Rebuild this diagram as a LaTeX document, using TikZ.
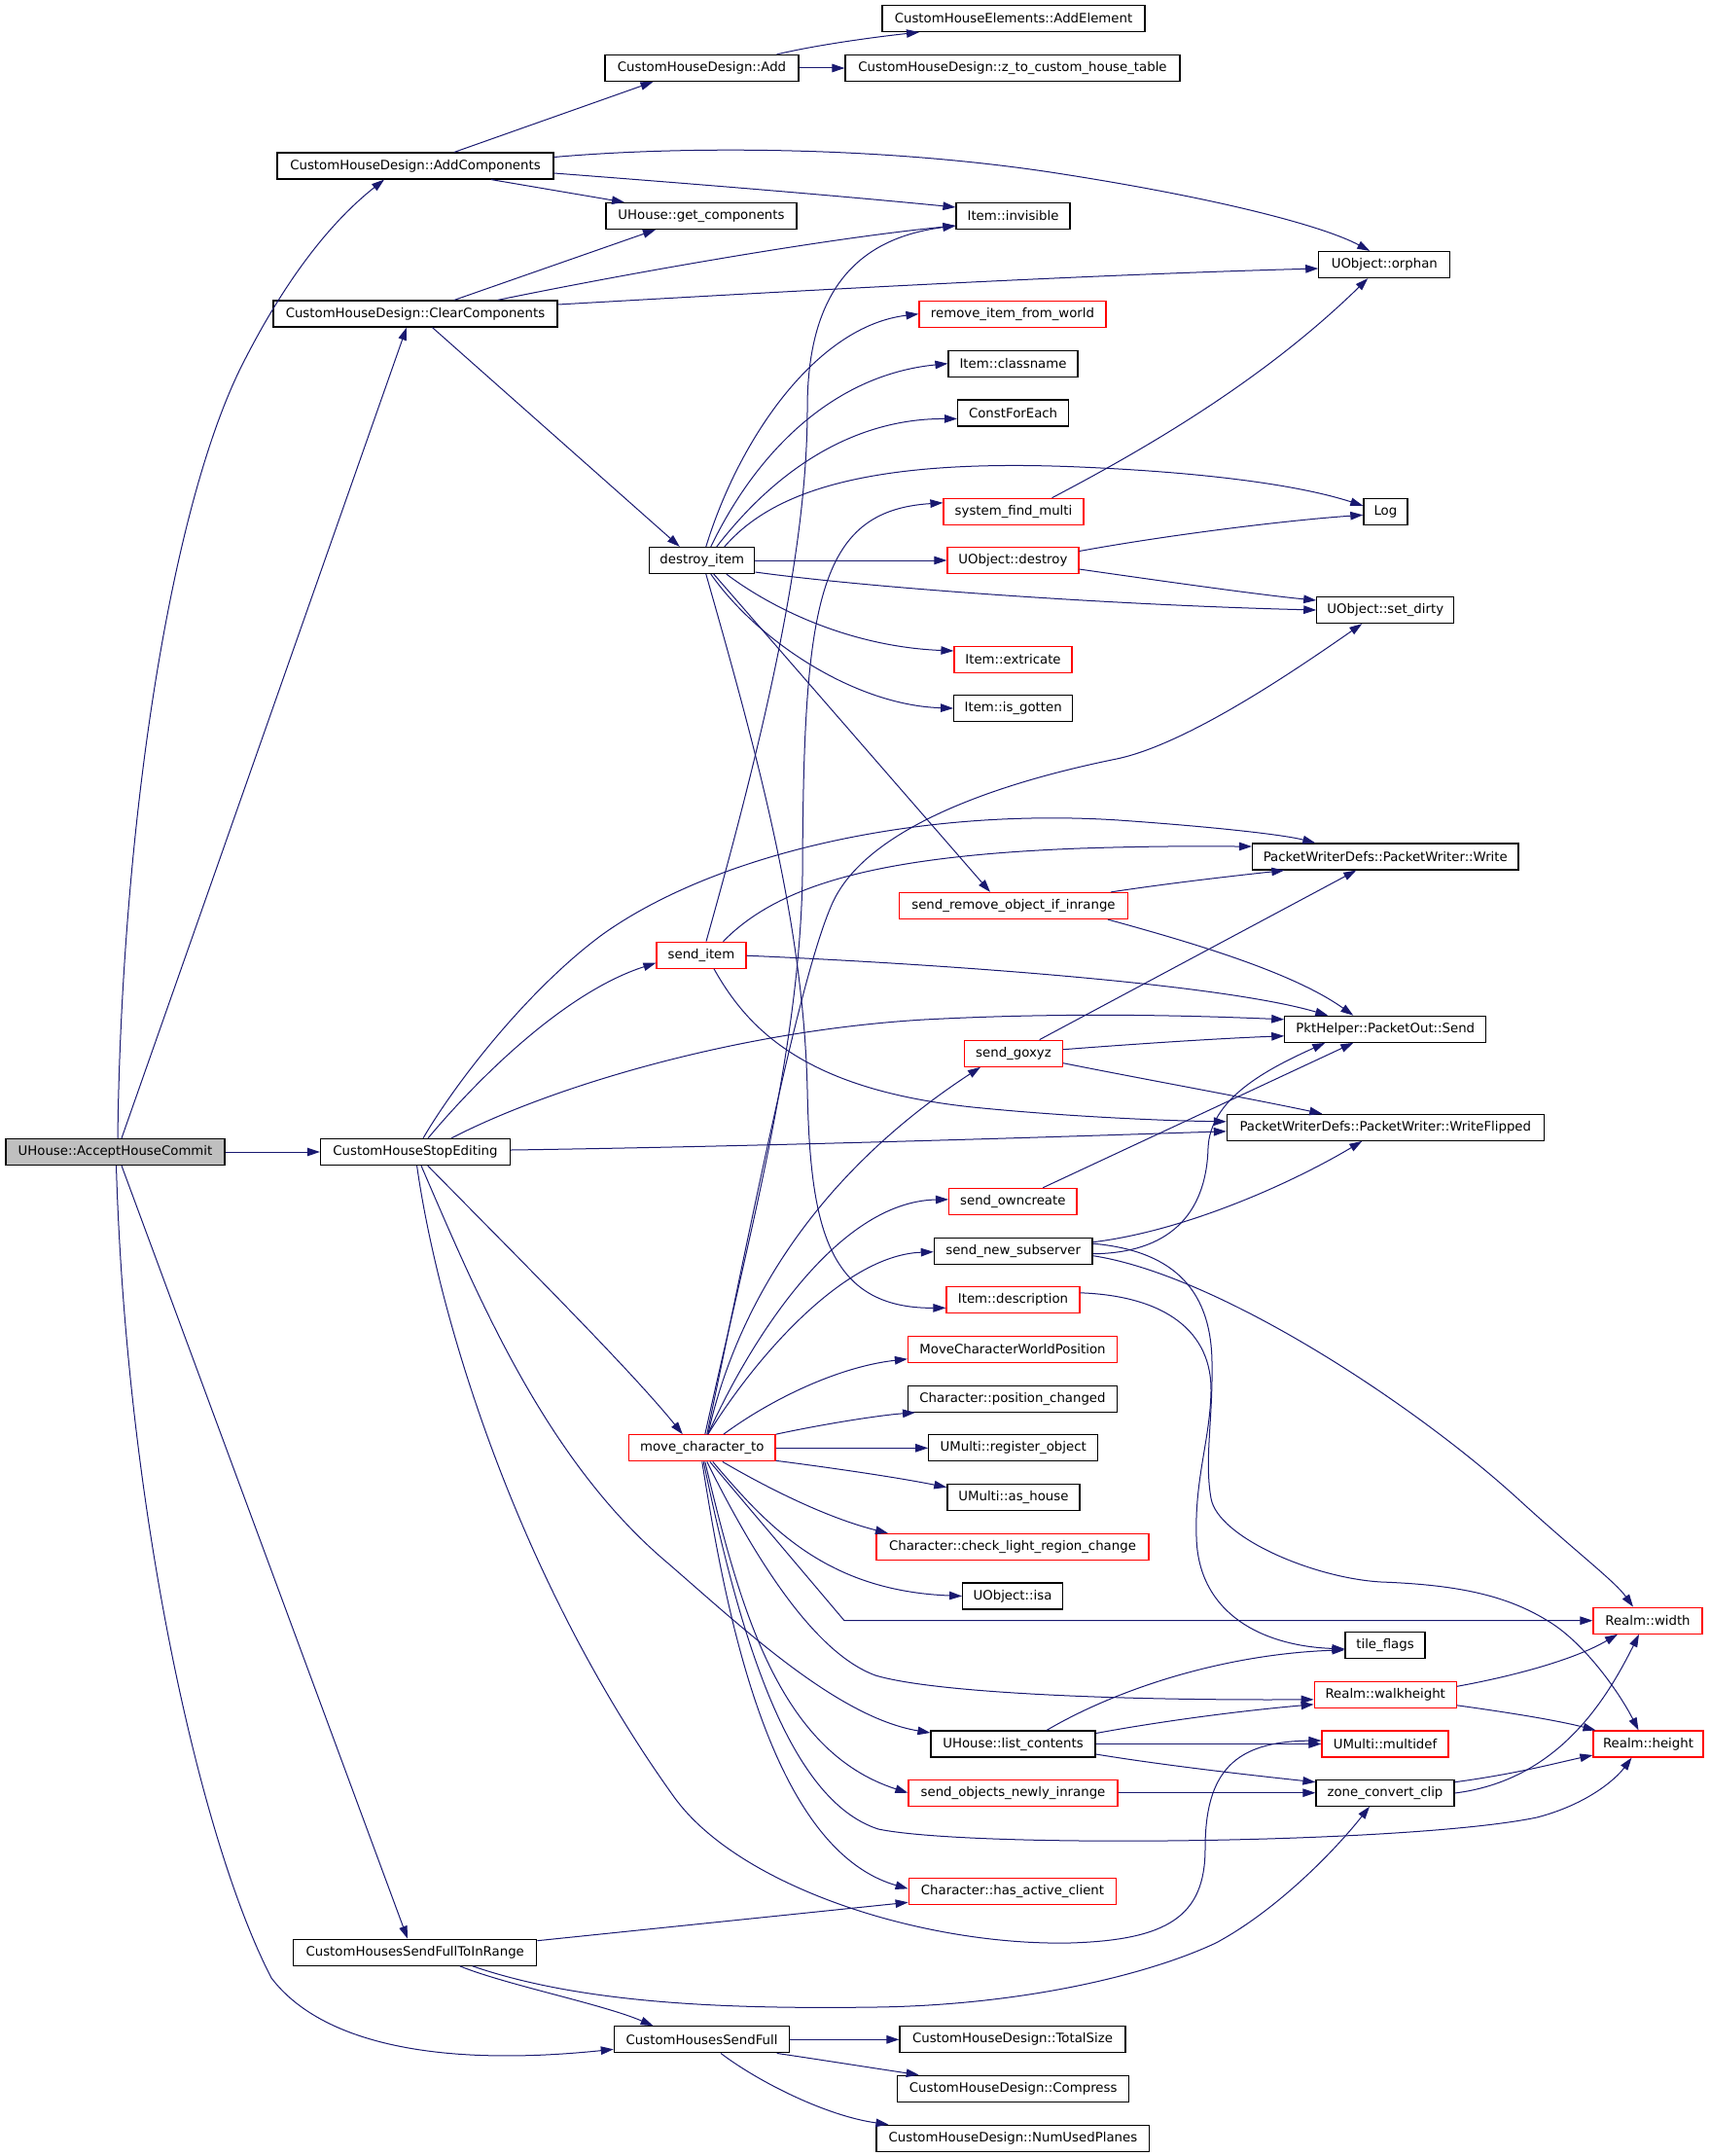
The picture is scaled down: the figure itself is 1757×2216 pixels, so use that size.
\documentclass[tikz,border=0pt]{standalone}
\usepackage{fontspec}
\setmainfont{DejaVu Sans}
\usetikzlibrary{arrows.meta,calc}
\definecolor{edgec}{HTML}{191970}
\begin{document}
\begin{tikzpicture}[x=1pt,y=-1pt,
  box/.style={draw=black,line width=1.2pt,fill=white,minimum height=27pt,inner sep=0pt,font=\fontsize{13.3}{16}\selectfont},
  rbox/.style={box,draw=red},
  e/.style={draw=edgec,line width=1pt,-{Triangle[length=13pt,width=8.5pt]}}]
\useasboundingbox (0,0) rectangle (1757,2216);
% nodes
\node[box,fill=gray!50,minimum width=225pt] (A) at (118.5,1184) {UHouse::AcceptHouseCommit};
\node[box,minimum width=284pt] (AC) at (427,170.5) {CustomHouseDesign::AddComponents};
\node[box,minimum width=292pt] (CC) at (427,322.5) {CustomHouseDesign::ClearComponents};
\node[box,minimum width=195pt] (SE) at (427,1184) {CustomHouseStopEditing};
\node[box,minimum width=250pt] (SFR) at (426.7,2006.7) {CustomHousesSendFullToInRange};
\node[box,minimum width=180.5pt] (SF) at (721.6,2096.3) {CustomHousesSendFull};
\node[box,minimum width=199pt] (ADD) at (721.5,70) {CustomHouseDesign::Add};
\node[box,minimum width=270pt] (AE) at (1042,19) {CustomHouseElements::AddElement};
\node[box,minimum width=344pt] (Z) at (1041,70) {CustomHouseDesign::z\_to\_custom\_house\_table};
\node[box,minimum width=196pt] (GC) at (721,222) {UHouse::get\_components};
\node[box,minimum width=117pt] (INV) at (1041.5,222) {Item::invisible};
\node[box,minimum width=135pt] (ORP) at (1423.3,272) {UObject::orphan};
\node[rbox,minimum width=192pt] (RIW) at (1041,322.7) {remove\_item\_from\_world};
\node[box,minimum width=133pt] (CLN) at (1041.5,373.7) {Item::classname};
\node[box,minimum width=114pt] (CFE) at (1041.6,424.5) {ConstForEach};
\node[rbox,minimum width=144pt] (SFM) at (1042,525.8) {system\_find\_multi};
\node[box,minimum width=45pt] (LOG) at (1424.4,525.8) {Log};
\node[box,minimum width=108pt] (DI) at (721.8,576) {destroy\_item};
\node[rbox,minimum width=135pt] (UD) at (1041.4,576) {UObject::destroy};
\node[box,minimum width=141pt] (SD) at (1424.3,627) {UObject::set\_dirty};
\node[rbox,minimum width=121pt] (EXT) at (1041.5,678) {Item::extricate};
\node[box,minimum width=122pt] (ISG) at (1041.7,728) {Item::is\_gotten};
\node[box,minimum width=273.5pt] (PW) at (1424.3,880.5) {PacketWriterDefs::PacketWriter::Write};
\node[rbox,minimum width=234.7pt] (SRO) at (1042,931) {send\_remove\_object\_if\_inrange};
\node[rbox,minimum width=92pt] (SI) at (721,981.7) {send\_item};
\node[box,minimum width=207pt] (PS) at (1424.3,1057.8) {PktHelper::PacketOut::Send};
\node[rbox,minimum width=100.7pt] (SG) at (1042,1082.7) {send\_goxyz};
\node[box,minimum width=325.8pt] (WF) at (1424.3,1158.8) {PacketWriterDefs::PacketWriter::WriteFlipped};
\node[rbox,minimum width=131.4pt] (SOC) at (1041.3,1234.8) {send\_owncreate};
\node[box,minimum width=162.7pt] (SNS) at (1041.7,1285.7) {send\_new\_subserver};
\node[rbox,minimum width=137pt] (IDS) at (1041.5,1336.3) {Item::description};
\node[rbox,minimum width=215pt] (MCW) at (1041,1386.8) {MoveCharacterWorldPosition};
\node[box,minimum width=215pt] (CPC) at (1041,1437.7) {Character::position\_changed};
\node[rbox,minimum width=150.4pt] (MCT) at (721.8,1488.3) {move\_character\_to};
\node[box,minimum width=174pt] (URO) at (1041.7,1488.3) {UMulti::register\_object};
\node[box,minimum width=136pt] (UAH) at (1041.9,1538.7) {UMulti::as\_house};
\node[rbox,minimum width=280pt] (CLR) at (1041,1590) {Character::check\_light\_region\_change};
\node[box,minimum width=102.7pt] (ISA) at (1041,1640.5) {UObject::isa};
\node[rbox,minimum width=112pt] (RW) at (1694,1665.7) {Realm::width};
\node[box,minimum width=82pt] (TF) at (1424,1690.8) {tile\_flags};
\node[rbox,minimum width=146pt] (RWH) at (1424.2,1741.8) {Realm::walkheight};
\node[box,minimum width=169pt] (ULC) at (1041.5,1792.5) {UHouse::list\_contents};
\node[rbox,minimum width=130pt] (UMD) at (1424,1792.5) {UMulti::multidef};
\node[rbox,minimum width=113pt] (RH) at (1694.5,1792.5) {Realm::height};
\node[rbox,minimum width=215pt] (SON) at (1041.5,1842.7) {send\_objects\_newly\_inrange};
\node[box,minimum width=142pt] (ZCC) at (1424,1842.7) {zone\_convert\_clip};
\node[rbox,minimum width=213.6pt] (HAC) at (1041,1944.3) {Character::has\_active\_client};
\node[box,minimum width=232pt] (TS) at (1041,2096.3) {CustomHouseDesign::TotalSize};
\node[box,minimum width=238pt] (CMP) at (1041.7,2146.7) {CustomHouseDesign::Compress};
\node[box,minimum width=280.7pt] (NUP) at (1041.4,2197.7) {CustomHouseDesign::NumUsedPlanes};
% edges from AcceptHouseCommit
\draw[e] ($(A.north)+(2.5,0)$) .. controls (125,850) and (175,520) .. (250,373) .. controls (280,314) and (325,240) .. ($(AC.south)+(-32,0)$);
\draw[e] ($(A.north)+(6.5,0)$) -- ($(CC.south)+(-9,0)$);
\draw[e] (A.east) -- (SE.west);
\draw[e] ($(A.south)+(6.5,0)$) -- ($(SFR.north)+(-7.7,0)$);
\draw[e] ($(A.south)+(1,0)$) .. controls (130,1550) and (205,1890) .. (279,2033) .. controls (330,2100) and (450,2125) .. ($(SF.west)+(0,10)$);
% AddComponents
\draw[e] ($(AC.north)+(40,0)$) -- ($(ADD.south)+(-50,0)$);
\draw[e] ($(AC.south)+(78,0)$) -- ($(GC.north)+(-79,0)$);
\draw[e] ($(AC.east)+(0,7.5)$) .. controls (700,188) and (850,200) .. ($(INV.west)+(0,-9)$);
\draw[e] ($(AC.east)+(0,-9)$) .. controls (700,150) and (900,150) .. (1080,177) .. controls (1250,203) and (1360,232) .. ($(ORP.north)+(-15,0)$);
% ClearComponents
\draw[e] ($(CC.north)+(40,0)$) -- ($(GC.south)+(-47,0)$);
\draw[e] ($(CC.north)+(84.5,0)$) .. controls (650,280) and (850,245) .. ($(INV.west)+(0,10)$);
\draw[e] ($(CC.east)+(0,-9.5)$) .. controls (800,300) and (1100,283) .. ($(ORP.west)+(0,4)$);
\draw[e] ($(CC.south)+(17.5,0)$) -- ($(DI.north)+(-23,0)$);
% Add
\draw[e] ($(ADD.north)+(77,0)$) .. controls (840,46) and (900,38) .. ($(AE.south)+(-97,0)$);
\draw[e] (ADD.east) -- (Z.west);
% destroy_item
\draw[e] ($(DI.north)+(4,0)$) .. controls (760,450) and (840,335) .. (RIW.west);
\draw[e] ($(DI.north)+(9,0)$) .. controls (780,460) and (860,385) .. (CLN.west);
\draw[e] ($(DI.north)+(15,0)$) .. controls (800,480) and (880,430) .. ($(CFE.west)+(0,6)$);
\draw[e] ($(DI.north)+(23,0)$) .. controls (790,510) and (880,470) .. (1110,480) .. controls (1250,486) and (1340,500) .. ($(LOG.west)+(0,-6)$);
\draw[e] (DI.east) -- (UD.west);
\draw[e] ($(DI.east)+(0,12)$) .. controls (900,605) and (1150,622) .. (SD.west);
\draw[e] ($(DI.south)+(25,0)$) .. controls (800,630) and (880,665) .. ($(EXT.west)+(0,-9)$);
\draw[e] ($(DI.south)+(9,0)$) .. controls (780,660) and (880,725) .. (ISG.west);
\draw[e] ($(DI.south)+(12,0)$) -- ($(SRO.north)+(-24,0)$);
\draw[e] ($(DI.south)+(4,0)$) .. controls (780,780) and (826,950) .. (830,1120) .. controls (833,1260) and (850,1345) .. ($(IDS.west)+(0,8)$);
% send_item
\draw[e] ($(SI.north)+(5,0)$) .. controls (790,740) and (830,560) .. (830,420) .. controls (830,300) and (880,245) .. ($(INV.west)+(0,10)$);
\draw[e] ($(SI.north)+(22.5,0)$) .. controls (800,910) and (900,880) .. (1110,872) .. controls (1200,869) and (1250,870) .. ($(PW.west)+(0,-10.5)$);
\draw[e] ($(SI.east)+(0,0.5)$) .. controls (950,990) and (1250,1010) .. ($(PS.north)+(-59,0)$);
\draw[e] ($(SI.south)+(13,0)$) .. controls (770,1060) and (830,1120) .. (1000,1138) .. controls (1100,1148) and (1200,1152) .. ($(WF.west)+(0,-6)$);
% CustomHouseStopEditing
\draw[e] ($(SE.north)+(8,0)$) .. controls (470,1110) and (545,1015) .. (620,960) .. controls (740,875) and (950,830) .. (1150,843) .. controls (1250,850) and (1320,858) .. ($(PW.north)+(-72,0)$);
\draw[e] ($(SE.north)+(13,0)$) .. controls (490,1110) and (580,1020) .. ($(SI.west)+(0,8)$);
\draw[e] ($(SE.north)+(37,0)$) .. controls (560,1120) and (750,1060) .. (950,1048) .. controls (1100,1040) and (1230,1044) .. ($(PS.west)+(0,-10)$);
\draw[e] ($(SE.east)+(0,-2)$) .. controls (800,1178) and (1100,1168) .. ($(WF.west)+(0,4)$);
\draw[e] ($(SE.south)+(12.7,0)$) .. controls (540,1300) and (650,1410) .. ($(MCT.north)+(-20,0)$);
\draw[e] ($(SE.south)+(6,0)$) .. controls (490,1330) and (560,1500) .. (686.7,1606.7) .. controls (760,1670) and (860,1765) .. ($(ULC.west)+(0,-11.5)$);
\draw[e] ($(SE.south)+(1.6,0)$) .. controls (450,1350) and (530,1620) .. (693,1847) .. controls (760,1940) and (950,2000) .. (1100,1997) .. controls (1200,1994) and (1239,1970) .. (1239,1900) .. controls (1239,1820) and (1270,1790) .. ($(UMD.west)+(0,-3.5)$);
% CustomHousesSendFullToInRange
\draw[e] ($(SFR.east)+(0,-12)$) -- ($(HAC.west)+(0,11)$);
\draw[e] ($(SFR.south)+(46,0)$) .. controls (520,2040) and (620,2060) .. ($(SF.north)+(-50,0)$);
\draw[e] ($(SFR.south)+(59,0)$) .. controls (600,2060) and (750,2065) .. (900,2063) .. controls (1050,2061) and (1180,2030) .. (1250,1997) .. controls (1310,1965) and (1370,1905) .. ($(ZCC.south)+(-16,0)$);
% CustomHousesSendFull
\draw[e] (SF.east) -- (TS.west);
\draw[e] ($(SF.south)+(77,0)$) .. controls (850,2118) and (900,2126) .. ($(CMP.north)+(-97,0)$);
\draw[e] ($(SF.south)+(19.4,0)$) .. controls (780,2140) and (850,2175) .. ($(NUP.north)+(-128,0)$);
% misc
\draw[e] ($(SFM.north)+(39.5,0)$) .. controls (1180,460) and (1300,390) .. ($(ORP.south)+(-17,0)$);
\draw[e] ($(UD.east)+(0,-9.5)$) .. controls (1200,550) and (1320,535) .. ($(LOG.west)+(0,3.5)$);
\draw[e] ($(UD.east)+(0,9)$) .. controls (1200,598) and (1300,612) .. ($(SD.west)+(0,-10)$);
\draw[e] ($(SRO.north)+(100,0)$) .. controls (1200,908) and (1270,900) .. ($(PW.south)+(-104,0)$);
\draw[e] ($(SRO.south)+(97,0)$) .. controls (1230,970) and (1330,1000) .. ($(PS.north)+(-33,0)$);
\draw[e] ($(SG.north)+(26.7,0)$) -- ($(PW.south)+(-30,0)$);
\draw[e] ($(SG.east)+(0,-4)$) .. controls (1180,1072) and (1260,1067) .. ($(PS.west)+(0,7)$);
\draw[e] ($(SG.east)+(0,10)$) .. controls (1180,1110) and (1280,1128) .. ($(WF.north)+(-65,0)$);
\draw[e] ($(SOC.north)+(31,0)$) -- ($(PS.south)+(-33,0)$);
\draw[e] ($(SNS.east)+(0,3)$) .. controls (1200,1288) and (1240,1250) .. (1242,1180) .. controls (1244,1130) and (1300,1100) .. ($(PS.south)+(-62,0)$);
\draw[e] ($(SNS.east)+(0,-9)$) .. controls (1220,1265) and (1330,1215) .. ($(WF.south)+(-24,0)$);
\draw[e] ($(SNS.east)+(0,5)$) .. controls (1250,1310) and (1450,1440) .. (1560,1540) .. controls (1620,1595) and (1660,1625) .. ($(RW.north)+(-15,0)$);
\draw[e] ($(SNS.east)+(0,-7.5)$) .. controls (1200,1285) and (1245,1320) .. (1246,1400) .. controls (1247,1460) and (1238,1500) .. (1245,1540) .. controls (1252,1580) and (1350,1622) .. (1420,1626) .. controls (1500,1629) and (1550,1640) .. (1593,1667) .. controls (1630,1690) and (1665,1740) .. ($(RH.north)+(-10,0)$);
\draw[e] ($(IDS.east)+(0,-7.5)$) .. controls (1200,1332) and (1246,1370) .. (1245,1430) .. controls (1244,1480) and (1228,1520) .. (1230,1580) .. controls (1232,1660) and (1300,1692) .. ($(TF.west)+(0,4)$);
% move_character_to
\draw[e] ($(MCT.north)+(3,0)$) .. controls (770,1270) and (822,1080) .. (825,900) .. controls (826,620) and (840,525) .. ($(SFM.west)+(0,-9)$);
\draw[e] ($(MCT.north)+(5,0)$) .. controls (770,1270) and (820,1010) .. (855,930) .. controls (885,860) and (1000,810) .. (1148,780) .. controls (1220,765) and (1330,690) .. ($(SD.south)+(-24,0)$);
\draw[e] ($(MCT.north)+(6,0)$) .. controls (760,1330) and (850,1200) .. ($(SG.south)+(-34,0)$);
\draw[e] ($(MCT.north)+(6,0)$) .. controls (770,1380) and (860,1235) .. ($(SOC.west)+(0,-2)$);
\draw[e] ($(MCT.north)+(6,0)$) .. controls (780,1390) and (870,1290) .. ($(SNS.west)+(0,1)$);
\draw[e] ($(MCT.north)+(22,0)$) .. controls (790,1440) and (860,1405) .. ($(MCW.west)+(0,10)$);
\draw[e] (MCT.north east) .. controls (840,1465) and (900,1455) .. ($(CPC.south)+(-100,0)$);
\draw[e] (MCT.east) -- (URO.west);
\draw[e] ($(MCT.east)+(0,13)$) .. controls (850,1508) and (920,1518) .. ($(UAH.west)+(0,-10)$);
\draw[e] ($(MCT.south)+(21,0)$) .. controls (790,1530) and (850,1560) .. ($(CLR.north)+(-128,0)$);
\draw[e] ($(MCT.south)+(11,0)$) .. controls (790,1570) and (850,1635) .. (ISA.west);
\draw[e] ($(MCT.south)+(8,0)$) -- (868,1665.7) -- (RW.west);
\draw[e] ($(MCT.south)+(5,0)$) .. controls (780,1610) and (840,1700) .. (900,1722) .. controls (960,1740) and (1150,1748) .. ($(RWH.west)+(0,5)$);
\draw[e] ($(MCT.south)+(3,0)$) .. controls (760,1650) and (800,1800) .. (SON.west);
\draw[e] ($(MCT.south)+(1.5,0)$) .. controls (760,1680) and (810,1850) .. (903,1880) .. controls (1000,1900) and (1450,1895) .. (1580,1868) .. controls (1630,1855) and (1660,1830) .. ($(RH.south)+(-17,0)$);
\draw[e] (MCT.south) .. controls (745,1650) and (790,1900) .. ($(HAC.west)+(0,-3)$);
% list_contents and others
\draw[e] ($(ULC.north)+(34.5,0)$) .. controls (1150,1735) and (1260,1700) .. ($(TF.west)+(0,5)$);
\draw[e] ($(ULC.east)+(0,-11)$) .. controls (1200,1768) and (1280,1758) .. ($(RWH.west)+(0,10)$);
\draw[e] (ULC.east) -- (UMD.west);
\draw[e] ($(ULC.east)+(0,10.5)$) .. controls (1200,1815) and (1290,1825) .. ($(ZCC.west)+(0,-11)$);
\draw[e] (SON.east) -- (ZCC.west);
\draw[e] ($(ZCC.east)+(0,0.3)$) .. controls (1600,1830) and (1650,1750) .. ($(RW.south)+(-9,0)$);
\draw[e] ($(ZCC.east)+(0,-11)$) .. controls (1560,1823) and (1600,1812) .. ($(RH.west)+(0,11.5)$);
\draw[e] ($(RWH.east)+(0,-8.5)$) .. controls (1560,1722) and (1620,1705) .. ($(RW.south)+(-31,0)$);
\draw[e] ($(RWH.east)+(0,11)$) .. controls (1550,1760) and (1600,1768) .. ($(RH.north)+(-54,0)$);
\end{tikzpicture}
\end{document}
